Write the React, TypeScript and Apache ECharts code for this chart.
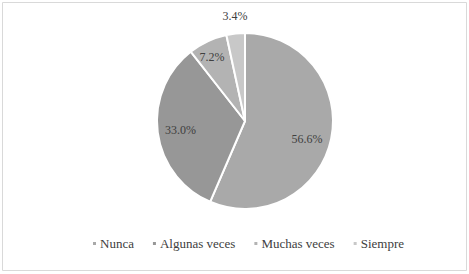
import React, { useEffect, useRef } from "react";
import * as echarts from "echarts";

const categories = ["Nunca", "Algunas veces", "Muchas veces", "Siempre"];
const values = [56.6, 33.0, 7.2, 3.4];
const colors = ["#a9a9a9", "#979797", "#b3b3b3", "#c8c8c8"];
const labelOffsets: [number, number][] = [[16, 8], [-18, 3], [-13, -21], [-5, -58]];

export default function App() {
  const ref = useRef<HTMLDivElement>(null);
  useEffect(() => {
    document.body.style.margin = "0";
    const chart = echarts.init(ref.current!, null, { renderer: "svg" });
    chart.setOption({
      animation: false,
      backgroundColor: "#ffffff",
      graphic: [
        {
          type: "rect",
          shape: { x: 2.5, y: 2.5, width: 464, height: 268 },
          style: { fill: "none", stroke: "#d9d9d9", lineWidth: 1 },
          silent: true,
        },
      ],
      legend: {
        bottom: 19,
        left: 86,
        itemWidth: 5,
        itemHeight: 5,
        itemGap: 17,
        icon: "rect",
        data: categories,
        textStyle: {
          fontFamily: "'Liberation Serif', 'Times New Roman', serif",
          fontSize: 13,
          color: "#404040",
          padding: [0, 0, 0, -2],
        },
      },
      series: [
        {
          type: "pie",
          center: [245, 121],
          radius: 88,
          startAngle: 90,
          clockwise: true,
          itemStyle: { borderColor: "#ffffff", borderWidth: 2 },
          label: {
            show: true,
            position: "inside",
            formatter: (p: any) => p.value.toFixed(1) + "%",
            fontFamily: "'Liberation Serif', 'Times New Roman', serif",
            fontSize: 12,
            color: "#404040",
          },
          labelLine: { show: false },
          data: categories.map((c, i) => ({
            name: c,
            value: values[i],
            itemStyle: { color: colors[i] },
            label: { offset: labelOffsets[i] },
          })),
        },
      ],
    });
    return () => chart.dispose();
  }, []);
  return <div ref={ref} style={{ position: "fixed", left: 0, top: 0, width: 469, height: 274 }} />;
}
